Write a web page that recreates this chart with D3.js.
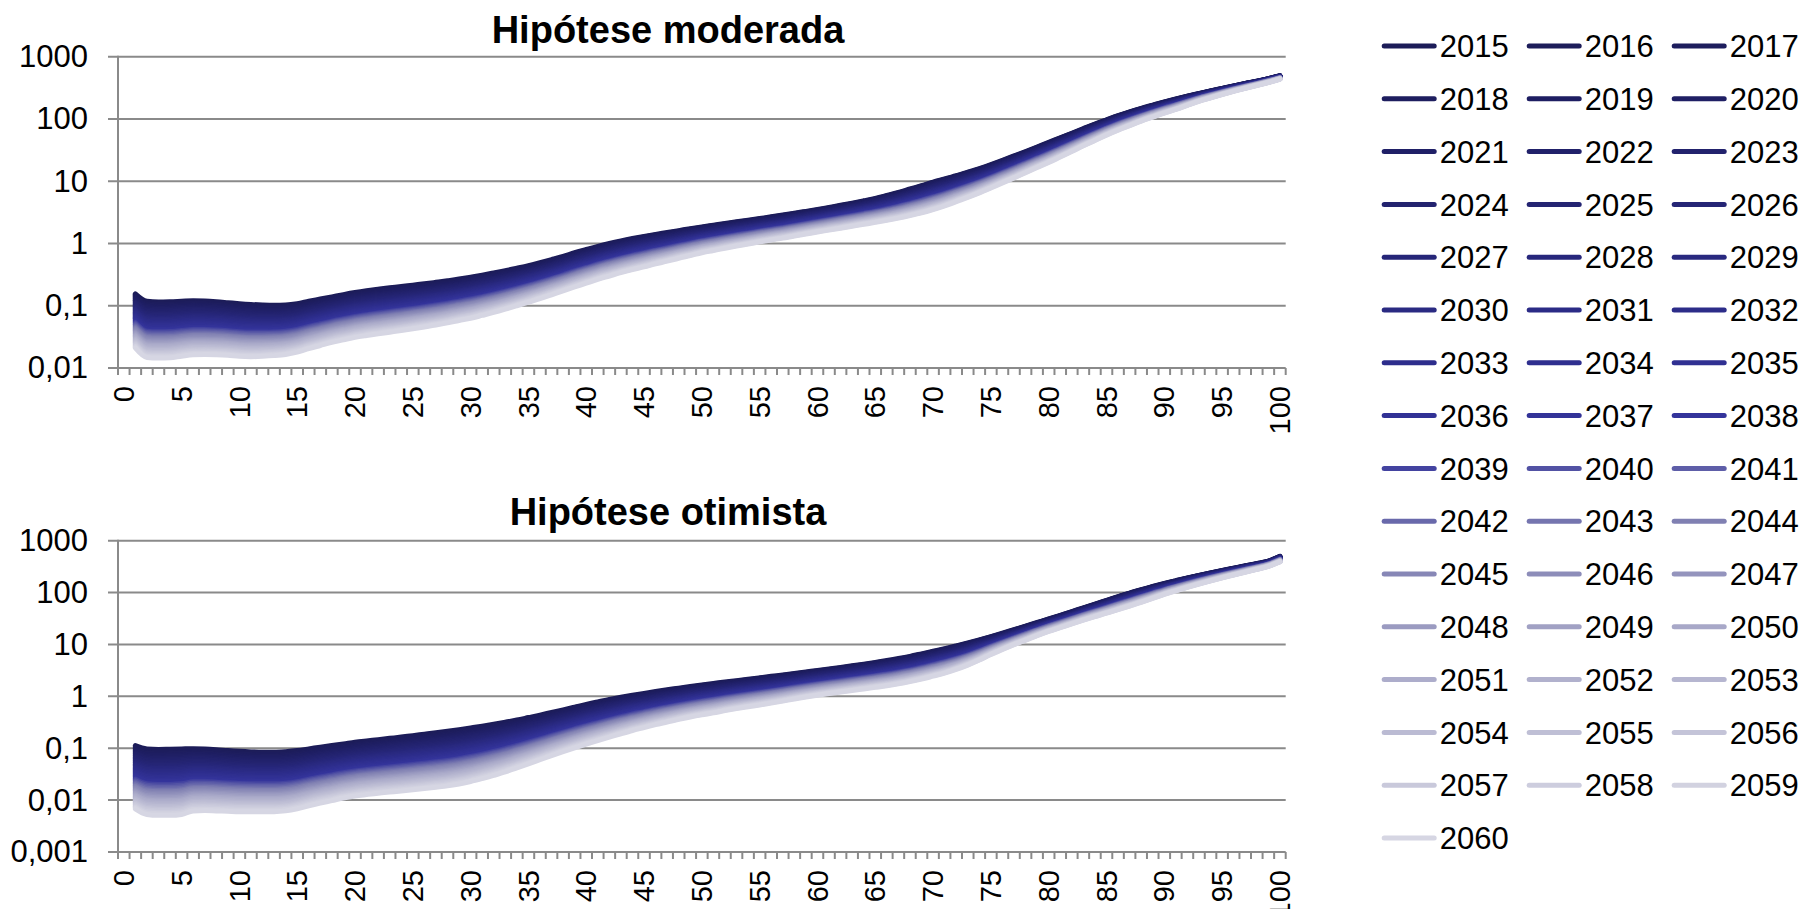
<!DOCTYPE html>
<html>
<head>
<meta charset="utf-8">
<script src="https://cdn.jsdelivr.net/npm/d3@7"></script>
<style>
body { margin: 0; background: #fff; }
svg { display: block; font-family: "Liberation Sans", Arial, sans-serif; }
.grid line, .domain-line { stroke: #8a8a8a; stroke-width: 2; }
.xax text { font-size: 29px; fill: #000; }
.yax text { font-size: 31px; fill: #000; }
.title { font-size: 38px; font-weight: bold; }
.leg text { font-size: 31px; fill: #000; }
</style>
</head>
<body>
<div class="chart"></div>
<script>
// ages on the category axis, lines start at age 1
var ages = d3.range(0, 101);
var years = d3.range(2015, 2061);

// share of the 2015 -> 2060 log change reached in each year
var progress = [0, .022, .044, .067, .089, .111, .133, .156, .178, .2, .222, .244, .267, .289, .311, .333,
  .356, .378, .4, .422, .444, .467, .489, .511, .533, .556, .578, .6, .622, .644, .667, .689, .711, .733,
  .756, .778, .8, .822, .844, .867, .889, .911, .933, .956, .978, 1];

// hipótese moderada, ages 1..100
var moderada2015 = [
  0.155, 0.118, 0.115, 0.116, 0.118, 0.12, 0.119, 0.116, 0.112, 0.108,
  0.105, 0.103, 0.102, 0.103, 0.108, 0.118, 0.128, 0.139, 0.151, 0.163,
  0.174, 0.184, 0.194, 0.203, 0.214, 0.225, 0.238, 0.252, 0.268, 0.288,
  0.31, 0.336, 0.365, 0.4, 0.44, 0.49, 0.55, 0.62, 0.71, 0.8,
  0.9, 1.0, 1.1, 1.2, 1.3, 1.4, 1.5, 1.61, 1.73, 1.85,
  1.97, 2.1, 2.23, 2.37, 2.52, 2.68, 2.86, 3.06, 3.28, 3.52,
  3.8, 4.1, 4.45, 4.85, 5.3, 5.9, 6.6, 7.5, 8.5, 9.7,
  10.9, 12.3, 14, 16, 18.5, 21.7, 25.5, 30, 35.5, 42,
  50, 59, 70, 83, 97, 113, 130, 148, 167, 188,
  210, 233, 257, 283, 310, 340, 372, 405, 445, 495];
var moderada2060 = [
  0.021, 0.0148, 0.0145, 0.0146, 0.0155, 0.0163, 0.0164, 0.0163, 0.016, 0.0154,
  0.0152, 0.0154, 0.0158, 0.0165, 0.018, 0.0205, 0.023, 0.0258, 0.0283, 0.031,
  0.0332, 0.0353, 0.0376, 0.04, 0.0427, 0.0457, 0.049, 0.053, 0.058, 0.063,
  0.07, 0.078, 0.088, 0.1, 0.114, 0.13, 0.15, 0.173, 0.2, 0.23,
  0.265, 0.3, 0.34, 0.38, 0.42, 0.47, 0.52, 0.58, 0.64, 0.71,
  0.77, 0.84, 0.91, 0.98, 1.06, 1.14, 1.22, 1.32, 1.42, 1.53,
  1.64, 1.76, 1.89, 2.03, 2.18, 2.35, 2.55, 2.8, 3.1, 3.5,
  4.0, 4.7, 5.5, 6.5, 7.8, 9.4, 11.3, 13.7, 16.6, 20,
  24.5, 30, 37, 45, 55, 66, 78, 92, 107, 124,
  142, 165, 192, 218, 247, 278, 310, 345, 385, 435];

// hipótese otimista, ages 1..100
var otimista2015 = [
  0.112, 0.097, 0.095, 0.096, 0.097, 0.098, 0.097, 0.094, 0.09, 0.087,
  0.085, 0.084, 0.084, 0.086, 0.09, 0.097, 0.105, 0.113, 0.121, 0.13,
  0.138, 0.146, 0.155, 0.164, 0.175, 0.186, 0.198, 0.212, 0.228, 0.246,
  0.266, 0.29, 0.318, 0.35, 0.39, 0.435, 0.49, 0.55, 0.62, 0.7,
  0.78, 0.87, 0.96, 1.05, 1.14, 1.24, 1.34, 1.44, 1.55, 1.66,
  1.77, 1.89, 2.01, 2.14, 2.28, 2.43, 2.59, 2.76, 2.95, 3.15,
  3.37, 3.61, 3.88, 4.18, 4.52, 4.9, 5.35, 5.9, 6.6, 7.4,
  8.3, 9.4, 10.7, 12.3, 14.2, 16.5, 19.3, 22.6, 26.5, 31,
  36.5, 43, 51, 60, 71, 84, 98, 114, 131, 150,
  170, 192, 215, 240, 267, 296, 328, 362, 405, 500];
var otimista2060 = [
  0.0068, 0.0053, 0.0051, 0.0051, 0.0053, 0.0062, 0.0063, 0.0062, 0.0061, 0.006,
  0.006, 0.006, 0.006, 0.0062, 0.0068, 0.0078, 0.0088, 0.0098, 0.011, 0.012,
  0.0128, 0.0136, 0.0143, 0.015, 0.0158, 0.0167, 0.0177, 0.0188, 0.0205, 0.0228,
  0.026, 0.03, 0.035, 0.042, 0.05, 0.06, 0.072, 0.086, 0.102, 0.12,
  0.14, 0.163, 0.19, 0.22, 0.25, 0.285, 0.32, 0.36, 0.4, 0.44,
  0.48, 0.53, 0.58, 0.63, 0.68, 0.74, 0.81, 0.89, 0.97, 1.05,
  1.13, 1.21, 1.3, 1.39, 1.49, 1.6, 1.74, 1.92, 2.15, 2.45,
  2.8, 3.3, 4.0, 5.0, 6.4, 8.0, 9.9, 12.1, 14.8, 17.8,
  21, 25, 29.5, 34.5, 40, 47, 55, 65, 77, 92,
  108, 126, 146, 168, 192, 218, 247, 280, 320, 390];

var moderadaTicks = [0.01, 0.1, 1, 10, 100, 1000];
var otimistaTicks = [0.001, 0.01, 0.1, 1, 10, 100, 1000];

var colorYears = [2015, 2020, 2026, 2032, 2038, 2040, 2044, 2050, 2056, 2060];
var colorValues = ["#1c1c58", "#1f1f64", "#252575", "#2c2c89", "#34349b", "#5252a4", "#8080b2", "#a8a8c8", "#c4c4d8", "#d6d6e3"];
var color = d3.scaleLinear().domain(colorYears).range(colorValues);

var W = 1807, H = 909;
var svg = d3.select('div.chart').append('svg').attr('width', W).attr('height', H);

var x = d3.scaleBand().domain(ages).range([118, 1285.7]).padding(0);
var fmt = d3.formatLocale({decimal: ",", thousands: ".", grouping: [3], currency: ["", ""]}).format("~f");

function series(a, b) {
  return years.map(function(yr, i) {
    var p = progress[i];
    return {year: yr, values: a.map(function(v, j) {
      return {age: j + 1, v: Math.exp(Math.log(v) + p * (Math.log(b[j]) - Math.log(v)))};
    })};
  });
}

function panel(title, titleY, yDomain, yRange, ticks, a, b) {
  var y = d3.scaleLog().domain(yDomain).range(yRange);
  var g = svg.append('g');
  var left = x.range()[0];

  g.append('text').attr('class', 'title').attr('x', 668).attr('y', titleY)
    .attr('text-anchor', 'middle').text(title);

  // gridlines + y ticks
  g.append('g').attr('class', 'grid').selectAll('line').data(ticks).enter().append('line')
    .attr('x1', left - 10).attr('x2', x.range()[1])
    .attr('y1', function(d){ return y(d); }).attr('y2', function(d){ return y(d); });

  var yAxis = d3.axisLeft(y).tickValues(ticks).tickFormat(fmt).tickSize(0).tickPadding(30);
  g.append('g').attr('class', 'yax').attr('transform', 'translate(' + left + ',0)').call(yAxis)
    .call(function(s){ s.select('.domain').remove(); });

  g.append('line').attr('class', 'domain-line')
    .attr('x1', left).attr('x2', left).attr('y1', yRange[1] - 1).attr('y2', yRange[0] + 1);

  // category tick marks
  var bottom = yRange[0];
  g.append('g').attr('class', 'grid').selectAll('line').data(ages.concat([101])).enter().append('line')
    .attr('x1', function(d){ return d <= 100 ? x(d) : x.range()[1]; })
    .attr('x2', function(d){ return d <= 100 ? x(d) : x.range()[1]; })
    .attr('y1', bottom).attr('y2', bottom + 7);

  var xAxis = d3.axisBottom(x).tickValues(ages.filter(function(d){ return d % 5 === 0; })).tickSize(0);
  g.append('g').attr('class', 'xax').attr('transform', 'translate(0,' + bottom + ')').call(xAxis)
    .call(function(s){ s.select('.domain').remove(); })
    .selectAll('text')
    .attr('transform', 'rotate(-90)')
    .attr('text-anchor', 'end')
    .attr('x', -18).attr('y', 0).attr('dy', '0.35em');

  var line = d3.line()
    .x(function(d){ return x(d.age) + x.bandwidth() / 2; })
    .y(function(d){ return y(d.v); })
    .curve(d3.curveMonotoneX);

  g.append('g').selectAll('path').data(series(a, b)).enter().append('path')
    .attr('d', function(d){ return line(d.values); })
    .attr('fill', 'none')
    .attr('stroke', function(d){ return color(d.year); })
    .attr('stroke-width', 5)
    .attr('stroke-linecap', 'round')
    .attr('stroke-linejoin', 'round');
}

panel('Hipótese moderada', 43, [0.01, 1000], [368, 56.7], moderadaTicks, moderada2015, moderada2060);
panel('Hipótese otimista', 525, [0.001, 1000], [852, 540.7], otimistaTicks, otimista2015, otimista2060);

// legend, 3 columns
var leg = svg.append('g').attr('class', 'leg').selectAll('g').data(years).enter().append('g')
  .attr('transform', function(d, i){
    return 'translate(' + (1381.7 + (i % 3) * 145) + ',' + (46 + Math.floor(i / 3) * 52.8) + ')';
  });
leg.append('line').attr('x1', 2.5).attr('x2', 52.5).attr('y1', 0).attr('y2', 0)
  .attr('stroke', function(d){ return color(d); }).attr('stroke-width', 5).attr('stroke-linecap', 'round');
leg.append('text').attr('x', 58).attr('dy', '0.36em').text(function(d){ return d; });
</script>
</body>
</html>
